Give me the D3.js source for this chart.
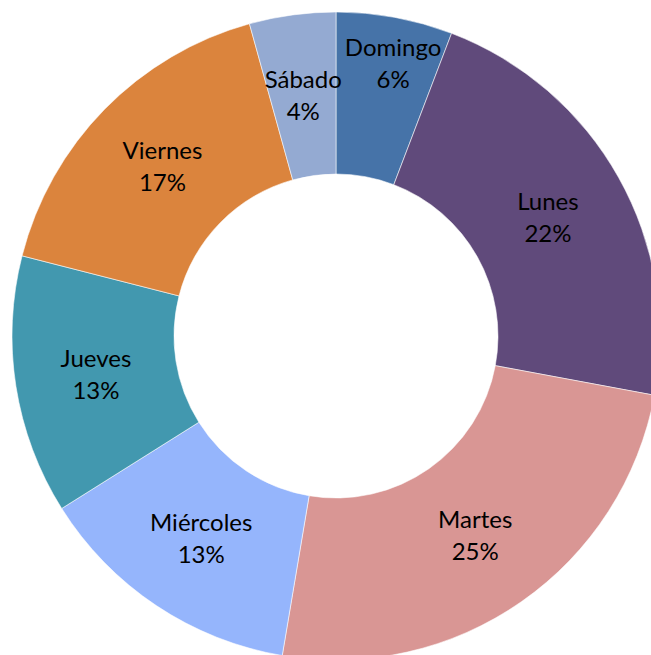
<!DOCTYPE html>
<html><head><meta charset="utf-8">
<script src="https://cdn.jsdelivr.net/npm/d3@7"></script>
<style>html,body{margin:0;padding:0;background:#fff;}svg{display:block;}</style>
</head><body>
<svg id="chart" width="651" height="655"></svg>
<script>
const categories = ["Domingo", "Lunes", "Martes", "Miércoles", "Jueves", "Viernes", "Sábado"];
const values = [5.8, 22.1, 24.7, 13.4, 12.9, 16.7, 4.3];
const percentLabels = ["6%", "22%", "25%", "13%", "13%", "17%", "4%"];
const colors = ["#4673A8", "#604A7B", "#D99694", "#95B5FC", "#4298AF", "#DB843D", "#94AAD2"];

const svg = d3.select("#chart");
const cx = 336, cy = 336, outerR = 324, innerR = 162;
const g = svg.append("g").attr("transform", `translate(${cx},${cy})`);

const data = categories.map((c, i) => ({ name: c, value: values[i], label: percentLabels[i], color: colors[i] }));
const pie = d3.pie().value(d => d.value).sort(null);
const arc = d3.arc().innerRadius(innerR).outerRadius(outerR);
const arcs = pie(data);

g.selectAll("path.slice").data(arcs).join("path")
  .attr("class", "slice")
  .attr("d", arc)
  .attr("fill", d => d.data.color)
  .attr("stroke", "#ffffff")
  .attr("stroke-opacity", 0.7)
  .attr("stroke-width", 0.8);

// Excel nudges the narrow first label outward
const labelNudge = { "Domingo": [13, -34] };
const fontSize = 24;
const lbl = g.selectAll("text.lbl").data(arcs).join("text")
  .attr("class", "lbl")
  .attr("text-anchor", "middle")
  .attr("font-family", "Lato, 'Open Sans', sans-serif")
  .attr("font-size", fontSize)
  .attr("fill", "#000");
lbl.each(function(d) {
  const [x0, y0] = arc.centroid(d);
  const n = labelNudge[d.data.name] || [0, 0];
  const x = x0 + n[0], y = y0 + n[1];
  const t = d3.select(this);
  t.append("tspan").attr("x", x).attr("y", y - 7).text(d.data.name);
  t.append("tspan").attr("x", x).attr("y", y + 25).text(d.data.label);
});
</script>
</body></html>
